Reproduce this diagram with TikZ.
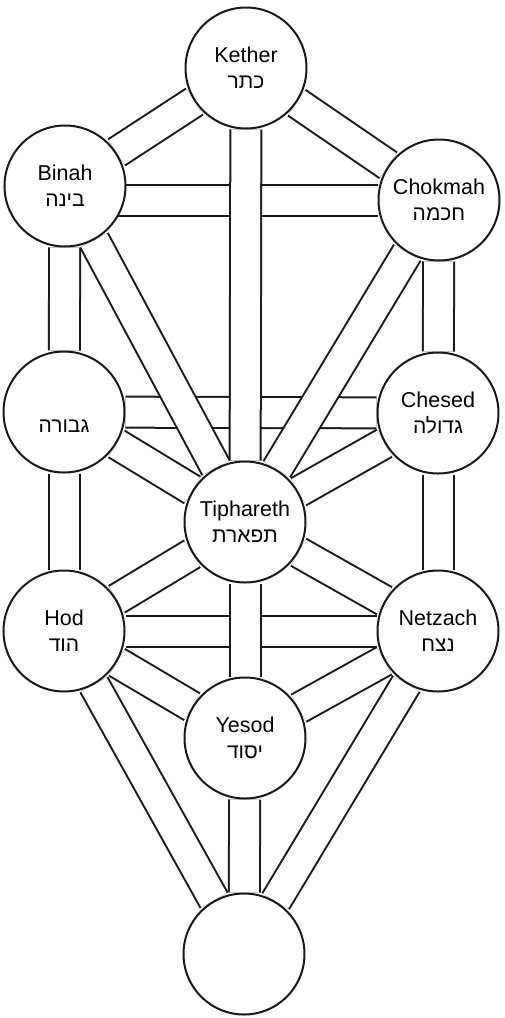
\documentclass[tikz,border=0pt]{standalone}
\usepackage{fontspec}
\setmainfont{Liberation Sans}
\newfontfamily\hebfont[Script=Hebrew]{Liberation Sans}
\TeXXeTstate=1
\newcommand{\heb}[1]{{\hebfont\fontsize{21}{24}\selectfont\beginR #1\endR}}
\pgfdeclarelayer{bands}
\pgfsetlayers{bands,main}
\tikzset{
  sephira/.style={circle, draw=black!90, line width=2pt, fill=white,
    minimum size=121pt, inner sep=0pt, align=center,
    font=\fontsize{21.5}{26}\selectfont},
  pathband/.style={draw=black!90, line width=2pt, double=white, double distance=29pt},
}
\begin{document}
\begin{tikzpicture}[x=1pt,y=-1pt]
\useasboundingbox (0,0) rectangle (504,1018);
\node[sephira] (kether)    at (246,68)  {Kether\\\heb{כתר}};
\node[sephira] (binah)     at (65,186)  {Binah\\\heb{בינה}};
\node[sephira] (chokmah)   at (439,200) {Chokmah\\\heb{חכמה}};
\node[sephira] (gevurah)   at (64,412)  {\phantom{Gevurah}\\\heb{גבורה}};
\node[sephira] (chesed)    at (438,413) {Chesed\\\heb{גדולה}};
\node[sephira] (tiphareth) at (245,522) {Tiphareth\\\heb{תפארת}};
\node[sephira] (hod)       at (64,631)  {Hod\\\heb{הוד}};
\node[sephira] (netzach)   at (438,631) {Netzach\\\heb{נצח}};
\node[sephira] (yesod)     at (245,738) {Yesod\\\heb{יסוד}};
\node[sephira] (malkuth)   at (244,954) {};
\begin{pgfonlayer}{bands}
% horizontal paths
\draw[pathband] (binah |- chokmah) -- (chokmah);
\draw[pathband] (gevurah) -- (chesed);
\draw[pathband] (hod) -- (netzach);
% pillars and upper diagonals
\draw[pathband] (binah) -- (gevurah);
\draw[pathband] (gevurah) -- (hod);
\draw[pathband] (chokmah) -- (chesed);
\draw[pathband] (chesed) -- (netzach);
\draw[pathband] (kether) -- (binah);
\draw[pathband] (kether) -- (chokmah);
% paths to Tiphareth
\draw[pathband] (gevurah) -- (tiphareth);
\draw[pathband] (chesed) -- (tiphareth);
\draw[pathband] (hod) -- (tiphareth);
\draw[pathband] (netzach) -- (tiphareth);
\draw[pathband] (binah) -- (tiphareth);
\draw[pathband] (chokmah) -- (tiphareth);
% lower paths
\draw[pathband] (hod) -- (yesod);
\draw[pathband] (netzach) -- (yesod);
\draw[pathband] (hod) -- (malkuth);
\draw[pathband] (netzach) -- (malkuth);
% middle pillar
\draw[pathband] (kether) -- (tiphareth);
\draw[pathband] (tiphareth) -- (yesod);
\draw[pathband] (yesod) -- (malkuth);
\end{pgfonlayer}
\end{tikzpicture}
\end{document}
